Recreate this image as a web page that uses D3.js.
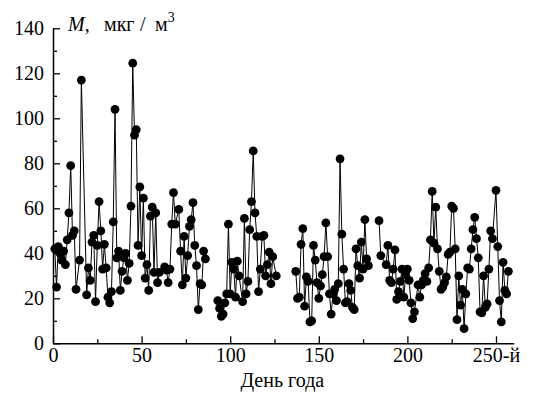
<!DOCTYPE html>
<html><head><meta charset="utf-8">
<script src="https://cdn.jsdelivr.net/npm/d3@7"></script>
<style>
body{margin:0;background:#fff;}
svg{display:block;}
svg text{font-family:"Liberation Serif","Times New Roman","DejaVu Serif",serif !important;}
</style></head>
<body>
<svg id="chart" width="536" height="397"></svg>
<script>
// Day of year
const days = [
 1,2,3,4,5,6,7,8,9,10,11,12,13,15,16,19,20,21,22,23,24,25,26,27,28,29,30,31,32,33,34,35,36,37,38,39,40,41,42,43,44,45,46,47,48,49,50,51,52,53,54,55,56,57,58,59,60,63,64,65,66,67,68,69,71,72,73,74,75,76,77,78,79,80,81,82,83,84,85,86,
 93,94,95,96,97,98,99,100,101,102,103,104,105,107,108,109,110,111,112,113,114,115,116,117,118,119,120,121,122,123,124,126,
 137,138,139,140,141,142,143,144,145,146,147,148,149,150,151,152,153,154,155,156,157,158,159,160,161,162,163,164,165,166,167,168,169,170,171,172,173,174,175,176,177,178,
 184,185,188,189,190,191,192,193,194,195,196,197,198,199,200,201,202,203,204,206,207,208,209,210,211,212,213,214,215,216,217,218,219,220,221,222,223,224,225,226,227,228,229,230,231,232,233,234,235,236,237,238,239,240,241,242,243,244,245,246,247,248,250,251,252,253,254,255,256,257
];
// Concentration M, µg/m3
const values = [
 42,25,43,40,37,41,35,46,58,79,48,50,24,37,117,21.5,33.5,28,45,48,18.5,43.5,63,50,33,44,33.5,20.5,18,23,54,104,38,41,23.5,32,38,40,28,35.5,61,124.5,92.5,95,43.5,69.5,39,64.5,29,35,23.5,56.5,60.5,31.5,58,27,31.5,34,32.5,27,33,53,67,53,59.5,41,26,47.5,29,39,52,55,62.5,43.5,34.5,15,26.5,26,41,37.5,
 19,15.5,12,13,18,22,53,22,36,33,20.5,36.5,30,18.5,55.5,22,27.5,50.5,63,85.5,58,47.5,23,33,47.5,48,30,35,40.5,26.5,38.5,30,
 32,20,20.5,44,51,16.5,29.5,27.5,9.5,10,43.5,37,27,20,25.5,30.5,38.5,53.5,38.5,22,13,22,24,19,26.5,82,48.5,33,18,18.5,26.5,23.5,16,15,42,34.5,29,45,33,55,37.5,34.5,
 54.5,39,35,43.5,28,27,33,41.5,19.5,23,27.5,33,20.5,30.5,33,28,18,11,14,26,20.5,26,28,31,27.5,33.5,46,67.5,44.5,60.5,42,32,24,25,27,29.5,39.5,40.5,61,60,42,10.5,30,17,24,6.5,22,33.5,33,42,50.5,56,46.5,38,14,13.5,30,16,17.5,33,50,46.5,68,43,19,9.5,36,23.5,22,32
];
const xMajorTicks = [0,50,100,150,200,250];
const xMinorTicks = [25,75,125,175,225];
const yMajorTicks = [0,20,40,60,80,100,120,140];
const yMinorTicks = [10,30,50,70,90,110,130];
const xTitle = "День года";

const FONT = "Liberation Serif, Times New Roman, DejaVu Serif, serif";
const svg = d3.select("#chart").attr("font-family", FONT);
const x = d3.scaleLinear().domain([0,260]).range([53,513.7]);
const y = d3.scaleLinear().domain([0,140]).range([343.3,28.3]);

const pts = days.map((d,i)=>({d, v: values[i]}));
const runs = [];
let cur = [];
pts.forEach((p,i)=>{
  if(i>0 && p.d - pts[i-1].d > 4){ runs.push(cur); cur=[]; }
  cur.push(p);
});
runs.push(cur);

const line = d3.line().x(p=>x(p.d)).y(p=>y(p.v));
svg.append("g").selectAll("path").data(runs).join("path")
  .attr("d", line).attr("fill","none").attr("stroke","#000").attr("stroke-width",1);
svg.append("g").selectAll("circle").data(pts).join("circle")
  .attr("cx",p=>x(p.d)).attr("cy",p=>y(p.v)).attr("r",4.4).attr("fill","#000");

const fontSize = 20;
const gx = svg.append("g").attr("transform",`translate(0,${y(0)})`)
  .call(d3.axisBottom(x).tickValues(xMajorTicks).tickSizeInner(-7).tickSizeOuter(0).tickPadding(9)
    .tickFormat(d=> d===250 ? "250-й" : d));
gx.append("g").call(d3.axisBottom(x).tickValues(xMinorTicks).tickSizeInner(-4).tickSizeOuter(0).tickFormat(""))
  .select(".domain").remove();
const gy = svg.append("g").attr("transform",`translate(${x(0)},0)`)
  .call(d3.axisLeft(y).tickValues(yMajorTicks).tickSizeInner(-7).tickSizeOuter(0).tickPadding(9));
gy.append("g").call(d3.axisLeft(y).tickValues(yMinorTicks).tickSizeInner(-4).tickSizeOuter(0).tickFormat(""))
  .select(".domain").remove();
svg.selectAll("g").attr("font-family", FONT);
svg.selectAll(".domain").attr("stroke","#000").attr("stroke-width",1.5);
svg.selectAll(".tick line").attr("stroke","#000").attr("stroke-width",1.3);
svg.selectAll(".tick text").attr("font-size",fontSize).attr("fill","#000");
gx.selectAll(".tick text").attr("dy","0.5em");

svg.append("text").attr("x",(x(0)+x(260))/2 - 1).attr("y",387).attr("text-anchor","middle")
  .attr("font-size",fontSize).attr("fill","#000").text(xTitle);
const yt = svg.append("text").attr("x",68).attr("y",31).attr("font-size",fontSize).attr("fill","#000");
yt.append("tspan").attr("font-style","italic").text("M");
yt.append("tspan").text(",");
yt.append("tspan").attr("x",104).text("мкг");
yt.append("tspan").attr("x",140).text("/");
yt.append("tspan").attr("x",155).text("м");
yt.append("tspan").attr("font-size",14).attr("dy",-9).text("3");
</script>
</body></html>
